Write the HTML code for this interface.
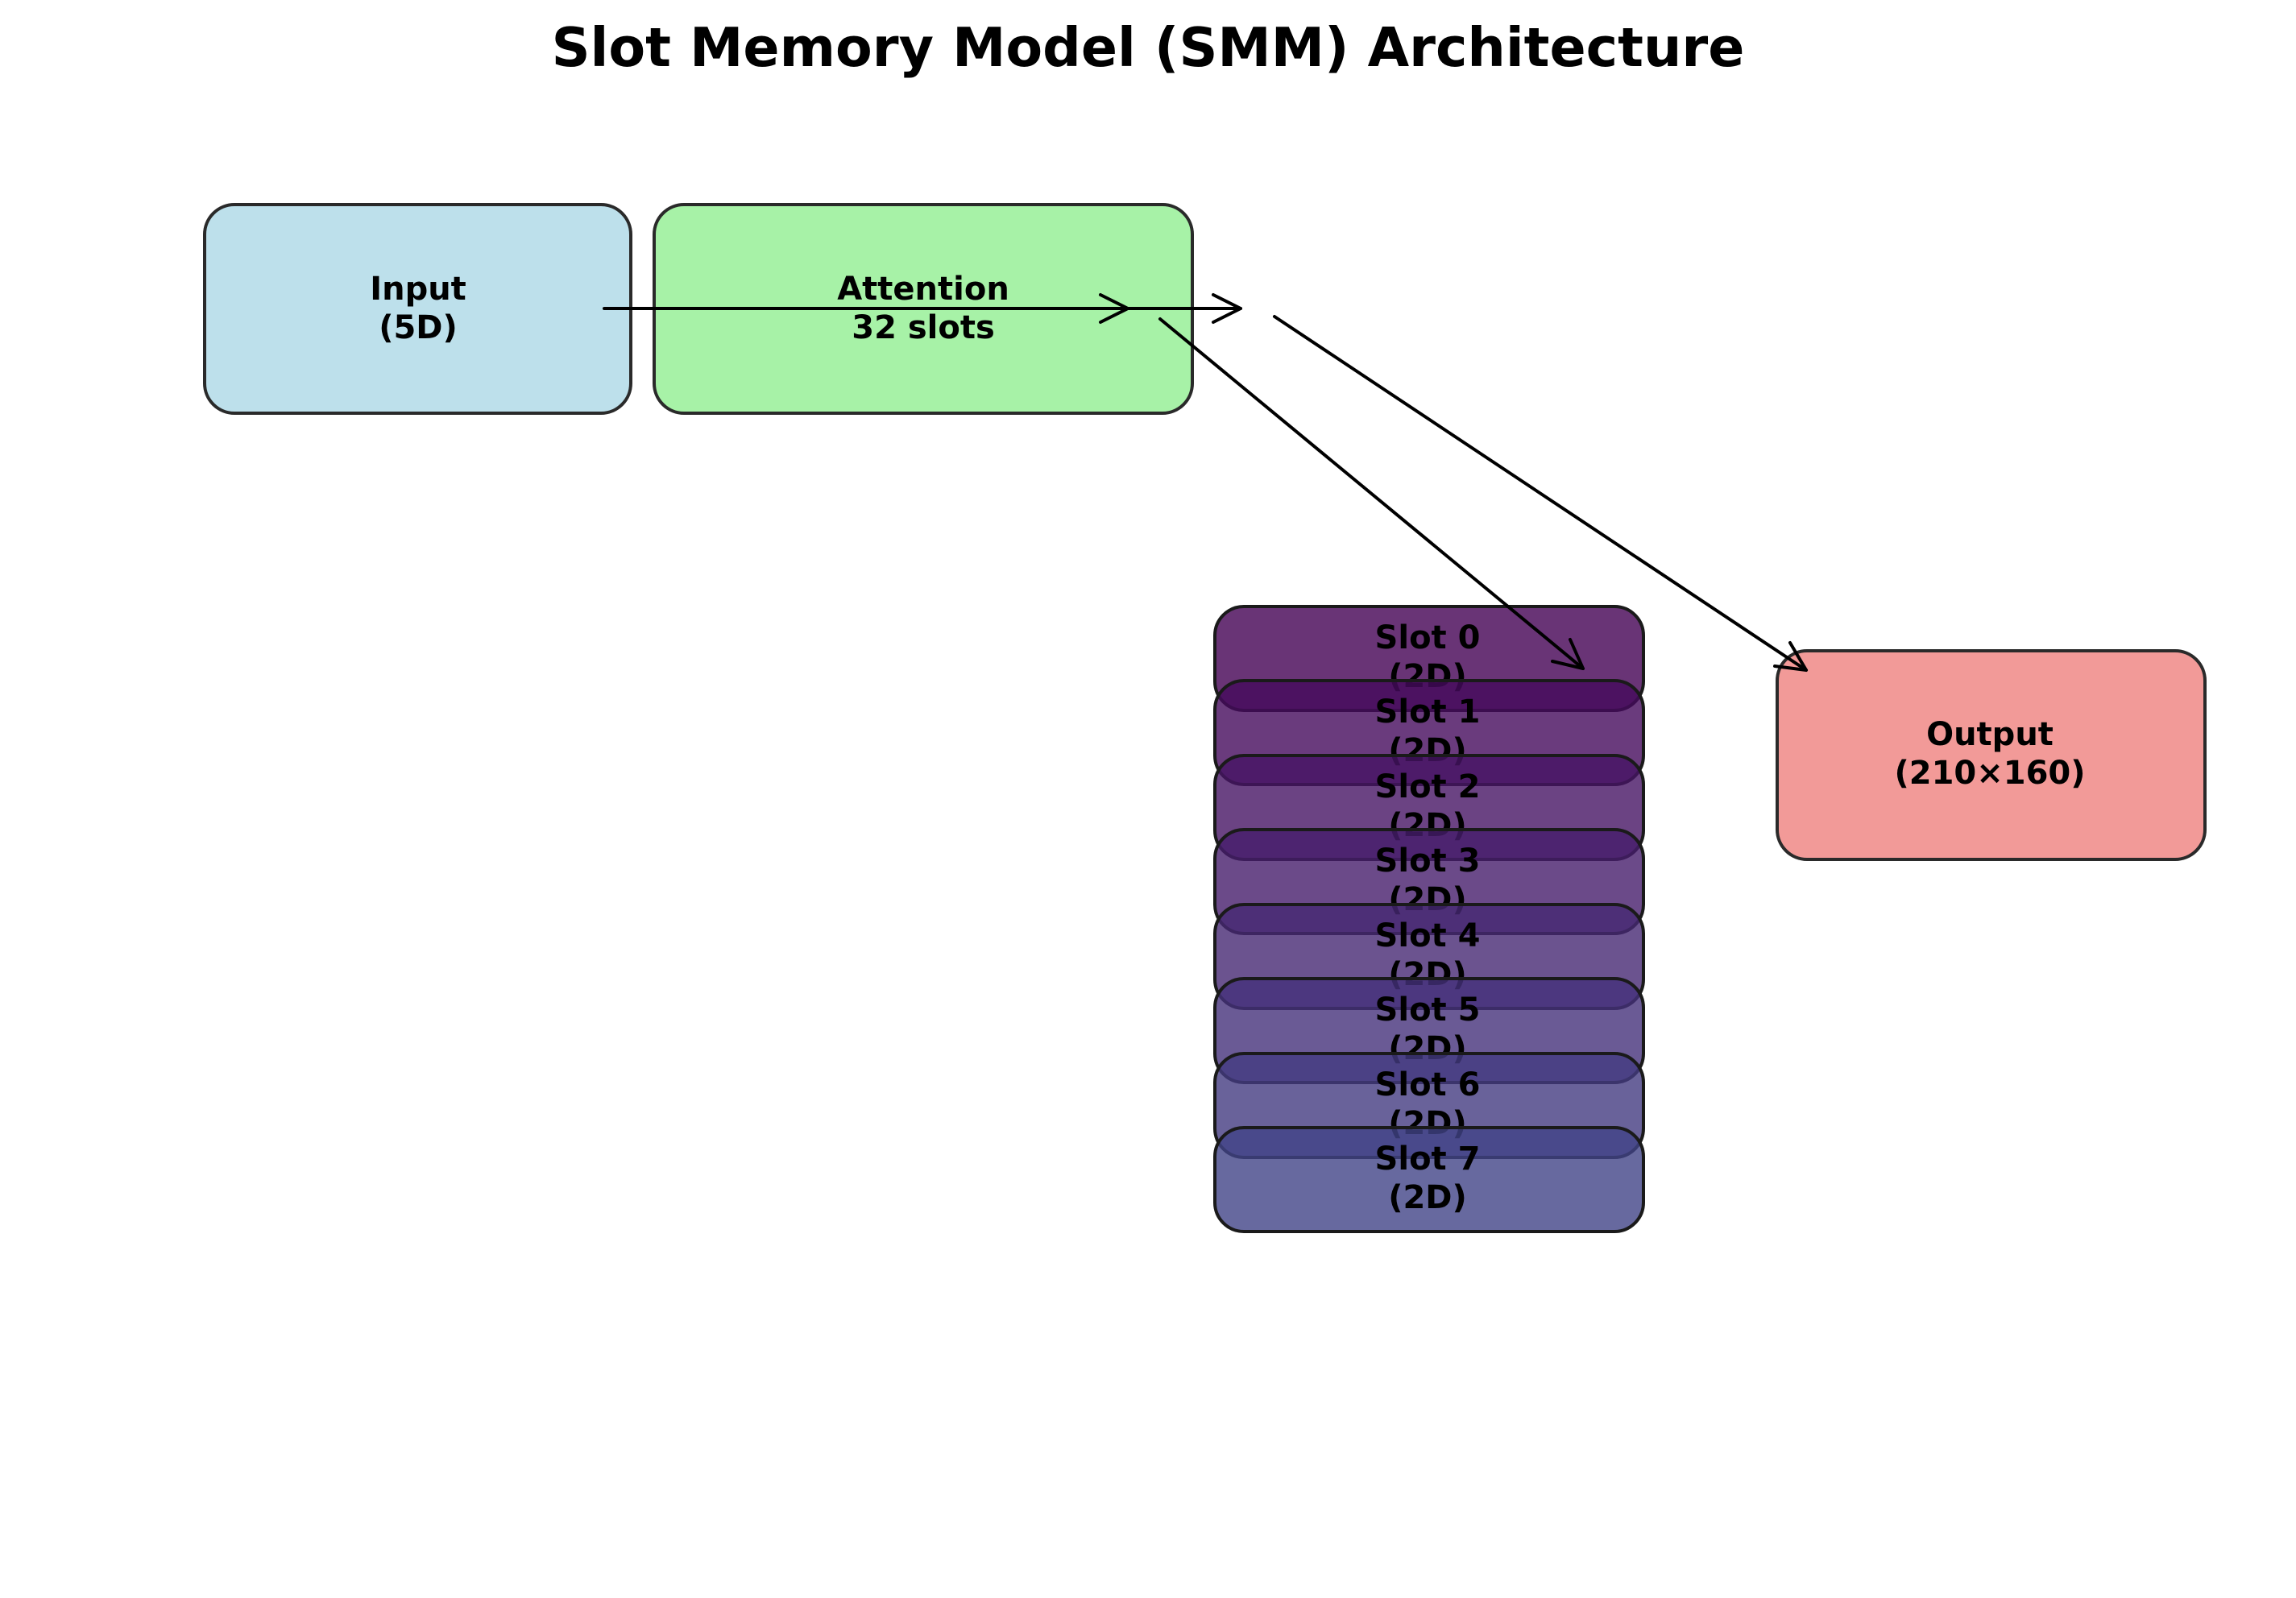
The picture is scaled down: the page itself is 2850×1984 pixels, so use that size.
<!DOCTYPE html>
<html><head><meta charset="utf-8"><style>
html,body{margin:0;padding:0;background:#fff;}
svg{display:block;}
text{font-family:"DejaVu Sans","Liberation Sans",sans-serif;font-weight:bold;fill:#000;}
</style></head><body>
<svg width="2850" height="1984" viewBox="0 0 2850 1984" xmlns="http://www.w3.org/2000/svg">
<rect width="2850" height="1984" fill="#fff"/>
<text x="1425" y="82" font-size="66.6" text-anchor="middle">Slot Memory Model (SMM) Architecture</text>

<rect x="254" y="254" width="529" height="259" rx="37" fill="#bde0eb" stroke="#2a2a2a" stroke-width="4"/>
<text x="519" y="372" font-size="40" text-anchor="middle">Input</text>
<text x="519" y="420" font-size="40" text-anchor="middle">(5D)</text>

<rect x="812" y="254" width="668" height="259" rx="37" fill="#a7f2a7" stroke="#2a2a2a" stroke-width="4"/>
<text x="1146" y="372" font-size="40" text-anchor="middle">Attention</text>
<text x="1146" y="420" font-size="40" text-anchor="middle">32 slots</text>

<g fill="none" stroke="#000" stroke-width="4" stroke-linecap="round" stroke-linejoin="round">
<line x1="750" y1="383" x2="1540" y2="383"/>
<polyline points="1366,366 1400,383 1366,400"/>
<polyline points="1506,366 1540,383 1506,400"/>
</g>

<rect x="1508" y="753" width="532" height="129" rx="36" fill="#440154" fill-opacity="0.8" stroke="#1a1a1a" stroke-width="4"/>
<text x="1772" y="805" font-size="40" text-anchor="middle">Slot 0</text><text x="1772" y="853" font-size="40" text-anchor="middle">(2D)</text>
<rect x="1508" y="845" width="532" height="129" rx="36" fill="#450a5c" fill-opacity="0.8" stroke="#1a1a1a" stroke-width="4"/>
<text x="1772" y="897" font-size="40" text-anchor="middle">Slot 1</text><text x="1772" y="945" font-size="40" text-anchor="middle">(2D)</text>
<rect x="1508" y="938" width="532" height="129" rx="36" fill="#461464" fill-opacity="0.8" stroke="#1a1a1a" stroke-width="4"/>
<text x="1772" y="990" font-size="40" text-anchor="middle">Slot 2</text><text x="1772" y="1038" font-size="40" text-anchor="middle">(2D)</text>
<rect x="1508" y="1030" width="532" height="129" rx="36" fill="#461d6c" fill-opacity="0.8" stroke="#1a1a1a" stroke-width="4"/>
<text x="1772" y="1082" font-size="40" text-anchor="middle">Slot 3</text><text x="1772" y="1130" font-size="40" text-anchor="middle">(2D)</text>
<rect x="1508" y="1123" width="532" height="129" rx="36" fill="#462873" fill-opacity="0.8" stroke="#1a1a1a" stroke-width="4"/>
<text x="1772" y="1175" font-size="40" text-anchor="middle">Slot 4</text><text x="1772" y="1223" font-size="40" text-anchor="middle">(2D)</text>
<rect x="1508" y="1215" width="532" height="129" rx="36" fill="#45317a" fill-opacity="0.8" stroke="#1a1a1a" stroke-width="4"/>
<text x="1772" y="1267" font-size="40" text-anchor="middle">Slot 5</text><text x="1772" y="1315" font-size="40" text-anchor="middle">(2D)</text>
<rect x="1508" y="1308" width="532" height="129" rx="36" fill="#433b81" fill-opacity="0.8" stroke="#1a1a1a" stroke-width="4"/>
<text x="1772" y="1360" font-size="40" text-anchor="middle">Slot 6</text><text x="1772" y="1408" font-size="40" text-anchor="middle">(2D)</text>
<rect x="1508" y="1400" width="532" height="129" rx="36" fill="#414487" fill-opacity="0.8" stroke="#1a1a1a" stroke-width="4"/>
<text x="1772" y="1452" font-size="40" text-anchor="middle">Slot 7</text><text x="1772" y="1500" font-size="40" text-anchor="middle">(2D)</text>

<rect x="2206" y="808" width="531" height="259" rx="37" fill="#f29a98" stroke="#2a2a2a" stroke-width="4"/>
<text x="2470" y="925" font-size="40" text-anchor="middle">Output</text>
<text x="2470" y="973" font-size="40" text-anchor="middle">(210×160)</text>

<g fill="none" stroke="#000" stroke-width="4" stroke-linecap="round" stroke-linejoin="round">
<line x1="1440" y1="396" x2="1965" y2="830"/>
<polyline points="1949,794 1965,830 1927,821"/>
<line x1="1582" y1="393" x2="2242" y2="832"/>
<polyline points="2222,798 2242,832 2203,827"/>
</g>
</svg>
</body></html>
